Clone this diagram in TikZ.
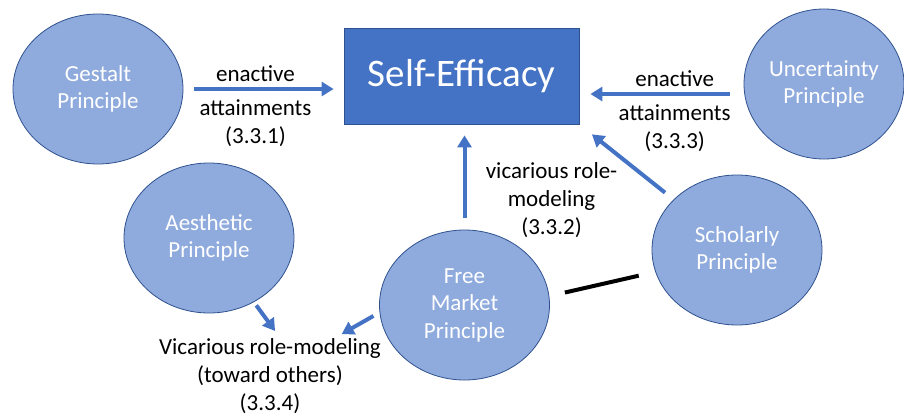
\documentclass[tikz,border=0pt]{standalone}
\usepackage{fontspec}
\setmainfont{Carlito}
\usetikzlibrary{arrows.meta, positioning, shapes.geometric}
\definecolor{principlefill}{HTML}{8FAADC}
\definecolor{principleline}{HTML}{2F528F}
\definecolor{efficacyblue}{HTML}{4472C4}
\tikzset{>={Triangle[length=12pt,width=14pt]}}

\begin{document}
\begin{tikzpicture}[x=1pt,y=-1pt,
    principle/.style={ellipse, draw=principleline, fill=principlefill, line width=.8pt,
        text=white, minimum width=170pt, minimum height=150pt, inner sep=0pt,
        align=center, font=\fontsize{23}{27.5}\selectfont},
    link/.style={->, draw=efficacyblue, line width=4pt},
    lbl/.style={align=center, font=\fontsize{23}{28}\selectfont}]
        \useasboundingbox (0,0) rectangle (904,418);

        \node[draw=principleline, fill=efficacyblue, line width=.8pt, text=white,
            minimum width=235pt, minimum height=96pt,
            font=\fontsize{39}{47}\selectfont] (self) at (461.5,76) {Self-Efficacy};

        \node[principle] (gestalt) at (98,89) {Gestalt\\Principle};
        \node[principle, minimum width=160pt] (uncert) at (824,84) {Uncertainty\\Principle};
        \node[principle] (aesth) at (209,238) {Aesthetic\\Principle};
        \node[principle] (market) at (464.5,305) {Free\\Market\\Principle};
        \node[principle] (scholar) at (737,250) {Scholarly\\Principle};
        \node[lbl, anchor=north] (others) at (270,335) {Vicarious role-modeling\\(toward others)\\(3.3.4)};

        % enactive attainments, left and right
        \draw[link, shorten <=11pt, shorten >=10pt] (gestalt.east) -- (gestalt.east -| self.west)
            node[lbl, pos=.45, above=2pt] {enactive}
            node[lbl, pos=.45, below=5pt] {attainments\\(3.3.1)};
        \draw[link, shorten <=14pt, shorten >=11pt] ([yshift=-10pt]uncert.west) -- ([yshift=-10pt]uncert.west -| self.east)
            node[lbl, pos=.42, above=2pt] {enactive}
            node[lbl, pos=.42, below=5pt] {attainments\\(3.3.3)};

        % vicarious role-modeling
        \draw[link, shorten <=12pt, shorten >=11pt] (market.north) -- (market.north |- self.south)
            node[lbl, pos=.28, right=16pt] {vicarious role-\\modeling\\(3.3.2)};
        \draw[link, shorten <=11pt, shorten >=16pt] (scholar) -- (self.south east);
        \draw[line width=4pt, shorten <=16pt, shorten >=17pt] (market.6) -- (scholar.195);

        \draw[link, shorten <=4pt, shorten >=5pt] (aesth.-55) -- ([xshift=8pt]others.north);
        \draw[link, shorten <=7pt, shorten >=2pt] (market.185) -- ([xshift=70pt]others.north);
\end{tikzpicture}
\end{document}
